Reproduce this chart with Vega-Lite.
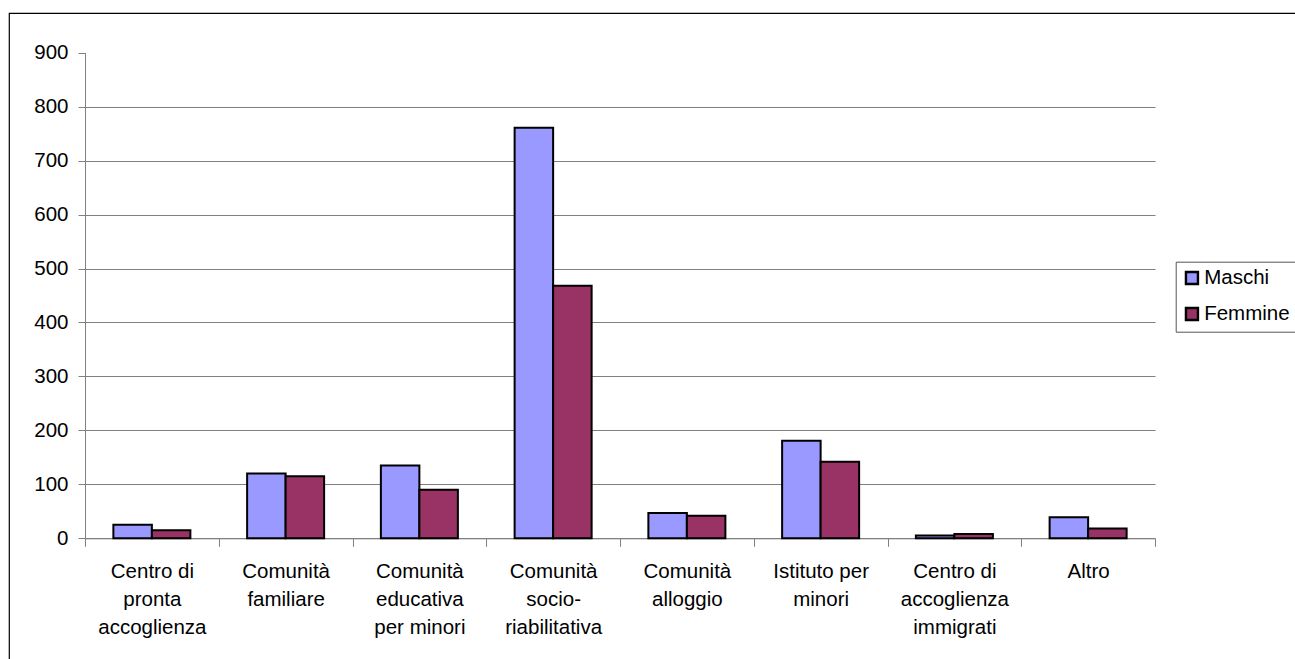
{
  "$schema": "https://vega.github.io/schema/vega-lite/v6.json",
  "autosize": {"type": "none"},
  "padding": {"left": 9, "top": 13, "right": 0, "bottom": 0},
  "width": 1300,
  "height": 660,
  "background": "white",
  "config": {
    "view": {"stroke": "#000", "strokeWidth": 1.2},
    "font": "Liberation Sans"
  },
  "data": {
    "values": [
      {"categoria": "Centro di pronta accoglienza", "sesso": "Maschi", "valore": 25},
      {"categoria": "Centro di pronta accoglienza", "sesso": "Femmine", "valore": 15},
      {"categoria": "Comunità familiare", "sesso": "Maschi", "valore": 120},
      {"categoria": "Comunità familiare", "sesso": "Femmine", "valore": 115},
      {"categoria": "Comunità educativa per minori", "sesso": "Maschi", "valore": 135},
      {"categoria": "Comunità educativa per minori", "sesso": "Femmine", "valore": 90},
      {"categoria": "Comunità socio-riabilitativa", "sesso": "Maschi", "valore": 761},
      {"categoria": "Comunità socio-riabilitativa", "sesso": "Femmine", "valore": 468},
      {"categoria": "Comunità alloggio", "sesso": "Maschi", "valore": 47},
      {"categoria": "Comunità alloggio", "sesso": "Femmine", "valore": 42},
      {"categoria": "Istituto per minori", "sesso": "Maschi", "valore": 181},
      {"categoria": "Istituto per minori", "sesso": "Femmine", "valore": 142},
      {"categoria": "Centro di accoglienza immigrati", "sesso": "Maschi", "valore": 5},
      {"categoria": "Centro di accoglienza immigrati", "sesso": "Femmine", "valore": 8},
      {"categoria": "Altro", "sesso": "Maschi", "valore": 39},
      {"categoria": "Altro", "sesso": "Femmine", "valore": 18}
    ]
  },
  "mark": {"type": "bar", "stroke": "#000", "strokeWidth": 2},
  "encoding": {
    "x": {
      "field": "categoria",
      "type": "nominal",
      "sort": null,
      "scale": {"range": [76, 1146], "paddingInner": 0, "paddingOuter": 0},
      "axis": {
        "title": null,
        "labelAngle": 0,
        "tickBand": "extent",
        "tickSize": 8,
        "labelPadding": 15,
        "labelFontSize": 20.5,
        "labelLineHeight": 28.3,
        "labelColor": "#000",
        "labelLimit": 0,
        "domainColor": "#808080",
        "tickColor": "#808080",
        "grid": false,
        "offset": -134.7,
        "labelExpr": "datum.label == 'Centro di pronta accoglienza' ? ['Centro di','pronta','accoglienza'] : datum.label == 'Comunità familiare' ? ['Comunità','familiare'] : datum.label == 'Comunità educativa per minori' ? ['Comunità','educativa','per minori'] : datum.label == 'Comunità socio-riabilitativa' ? ['Comunità','socio-','riabilitativa'] : datum.label == 'Comunità alloggio' ? ['Comunità','alloggio'] : datum.label == 'Istituto per minori' ? ['Istituto per','minori'] : datum.label == 'Centro di accoglienza immigrati' ? ['Centro di','accoglienza','immigrati'] : datum.label"
      }
    },
    "xOffset": {
      "field": "sesso",
      "sort": ["Maschi", "Femmine"],
      "scale": {"paddingInner": 0, "paddingOuter": 0.737}
    },
    "y": {
      "field": "valore",
      "type": "quantitative",
      "scale": {"domain": [0, 900], "range": [525.3, 39.7], "nice": false},
      "axis": {
        "title": null,
        "values": [0, 100, 200, 300, 400, 500, 600, 700, 800, 900],
        "tickSize": 7,
        "labelPadding": 10,
        "labelFontSize": 20.5,
        "labelColor": "#000",
        "domainColor": "#808080",
        "tickColor": "#808080",
        "grid": true,
        "gridColor": "#808080",
        "gridOpacity": {"condition": {"test": "datum.value == 900", "value": 0}, "value": 1},
        "offset": -76
      }
    },
    "color": {
      "field": "sesso",
      "type": "nominal",
      "sort": ["Maschi", "Femmine"],
      "scale": {"domain": ["Maschi", "Femmine"], "range": ["#9999FF", "#993366"]},
      "legend": {
        "title": null,
        "orient": "none",
        "legendX": 1166.7,
        "legendY": 248.7,
        "symbolType": "square",
        "symbolSize": 144,
        "symbolStrokeColor": "#000",
        "symbolStrokeWidth": 2.4,
        "symbolOpacity": 1,
        "labelFontSize": 20.5,
        "labelColor": "#000",
        "labelOffset": 2,
        "rowPadding": 13,
        "padding": 6,
        "strokeColor": "#555"
      }
    }
  }
}
